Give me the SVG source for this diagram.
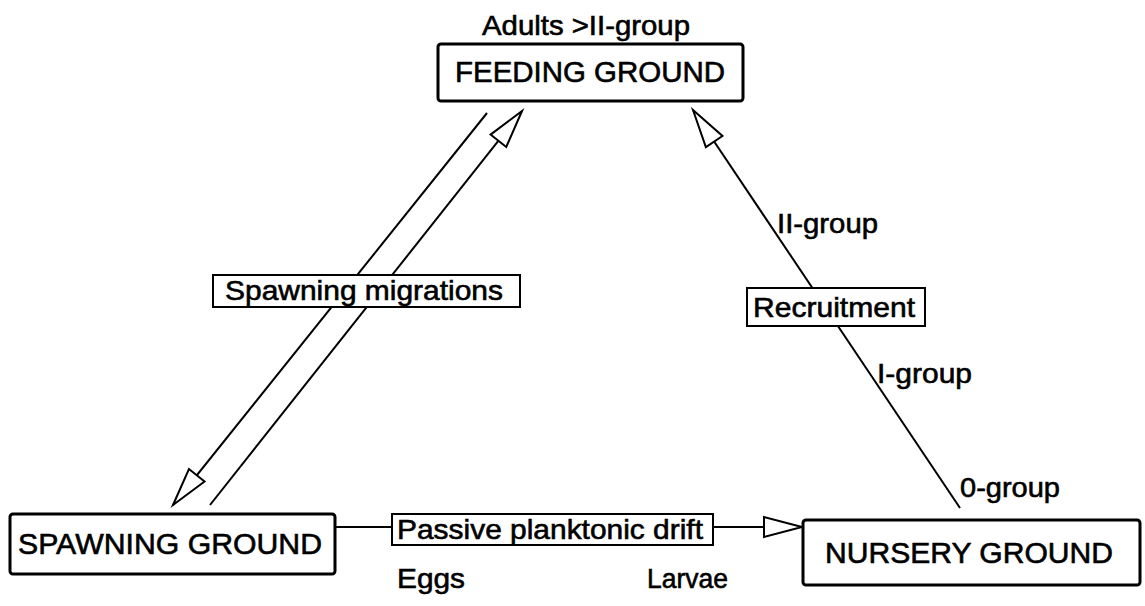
<svg xmlns="http://www.w3.org/2000/svg" width="1145" height="606" viewBox="0 0 1145 606">
<style>
text{font-family:"Liberation Sans",Arial,Helvetica,sans-serif;font-size:28px;fill:#000;stroke:#000;stroke-width:0.6}
.big{font-size:29px}
.node{fill:#fff;stroke:#000;stroke-width:3}
.lbl{fill:#fff;stroke:#000;stroke-width:2}
.con{stroke:#000;stroke-width:2;fill:none}
</style>
<defs>
<marker id="arr" viewBox="-40 -13 42 26" refX="0" refY="0" markerWidth="42" markerHeight="26" markerUnits="userSpaceOnUse" orient="auto" overflow="visible">
<path d="M0,0 L-38,-10 L-38,10 Z" fill="#fff" stroke="#000" stroke-width="2" stroke-linejoin="miter"/>
</marker>
</defs>
<g id="connectors">
<line class="con" x1="487" y1="113" x2="173" y2="505" marker-end="url(#arr)"/>
<line class="con" x1="210" y1="505" x2="522" y2="111" marker-end="url(#arr)"/>
<line class="con" x1="960" y1="508" x2="693" y2="110" marker-end="url(#arr)"/>
<line class="con" x1="335" y1="527" x2="802" y2="527" marker-end="url(#arr)"/>
</g>
<g id="feeding">
<text x="482" y="35" textLength="208" lengthAdjust="spacingAndGlyphs">Adults &gt;II-group</text>
<rect class="node" x="438" y="44" width="305" height="57" rx="3"/>
<text class="big" x="455" y="82" textLength="270" lengthAdjust="spacingAndGlyphs">FEEDING GROUND</text>
</g>
<g id="spawning">
<rect class="node" x="10" y="514" width="325" height="60" rx="3"/>
<text class="big" x="18" y="554" textLength="304" lengthAdjust="spacingAndGlyphs">SPAWNING GROUND</text>
</g>
<g id="nursery">
<rect class="node" x="803" y="520" width="337" height="65" rx="3"/>
<text class="big" x="825" y="563" textLength="288" lengthAdjust="spacingAndGlyphs">NURSERY GROUND</text>
</g>
<g id="label-migrations">
<rect class="lbl" x="213" y="275" width="307" height="32"/>
<text x="225" y="300" textLength="278" lengthAdjust="spacingAndGlyphs">Spawning migrations</text>
</g>
<g id="label-recruitment">
<rect class="lbl" x="747" y="288" width="178" height="38"/>
<text x="753" y="317" textLength="162" lengthAdjust="spacingAndGlyphs">Recruitment</text>
<text x="777" y="233" textLength="101" lengthAdjust="spacingAndGlyphs">II-group</text>
<text x="877" y="383" textLength="95" lengthAdjust="spacingAndGlyphs">I-group</text>
<text x="960" y="497" textLength="100" lengthAdjust="spacingAndGlyphs">0-group</text>
</g>
<g id="label-drift">
<rect class="lbl" x="392" y="514" width="321" height="31"/>
<text x="397" y="539" textLength="306" lengthAdjust="spacingAndGlyphs">Passive planktonic drift</text>
<text x="397" y="588" textLength="68" lengthAdjust="spacingAndGlyphs">Eggs</text>
<text x="647" y="588" textLength="81" lengthAdjust="spacingAndGlyphs">Larvae</text>
</g>
</svg>
